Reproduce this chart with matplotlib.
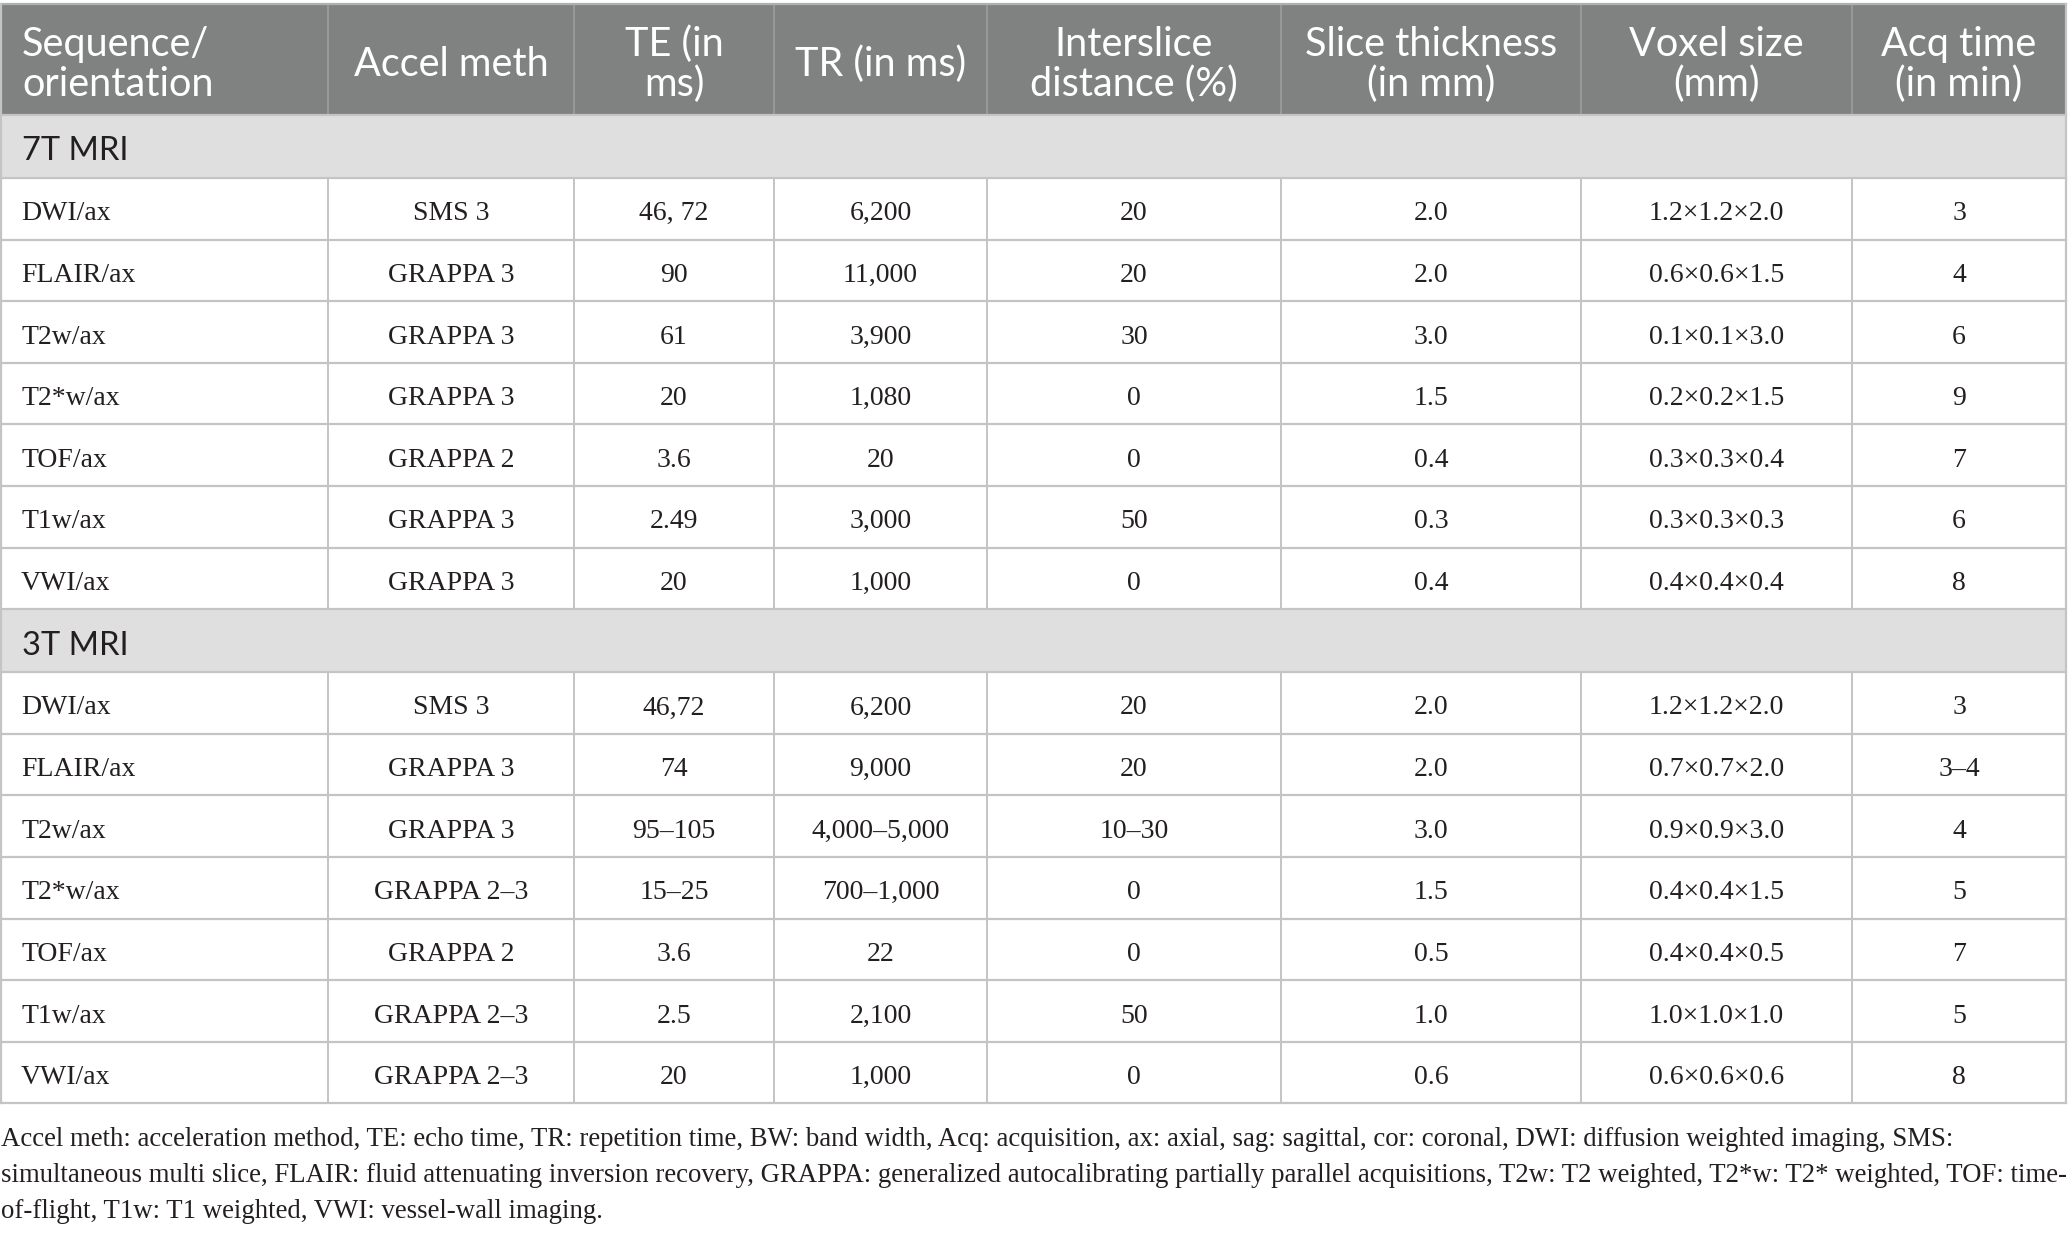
import matplotlib
matplotlib.use("Agg")
import matplotlib.pyplot as plt
from matplotlib.patches import Rectangle

# ---------------- data ----------------
headers = [["Sequence/", "orientation"], ["Accel meth"], ["TE (in", "ms)"], ["TR (in ms)"],
           ["Interslice", "distance (%)"], ["Slice thickness", "(in mm)"],
           ["Voxel size", "(mm)"], ["Acq time", "(in min)"]]

section_7t = "7T MRI"
seq_7t = ["DWI/ax", "FLAIR/ax", "T2w/ax", "T2*w/ax", "TOF/ax", "T1w/ax", "VWI/ax"]
accel_7t = ["SMS 3", "GRAPPA 3", "GRAPPA 3", "GRAPPA 3", "GRAPPA 2", "GRAPPA 3", "GRAPPA 3"]
te_7t = ["46, 72", "90", "61", "20", "3.6", "2.49", "20"]
tr_7t = ["6,200", "11,000", "3,900", "1,080", "20", "3,000", "1,000"]
inter_7t = ["20", "20", "30", "0", "0", "50", "0"]
thick_7t = ["2.0", "2.0", "3.0", "1.5", "0.4", "0.3", "0.4"]
voxel_7t = ["1.2×1.2×2.0", "0.6×0.6×1.5", "0.1×0.1×3.0", "0.2×0.2×1.5",
            "0.3×0.3×0.4", "0.3×0.3×0.3", "0.4×0.4×0.4"]
acq_7t = ["3", "4", "6", "9", "7", "6", "8"]

section_3t = "3T MRI"
seq_3t = ["DWI/ax", "FLAIR/ax", "T2w/ax", "T2*w/ax", "TOF/ax", "T1w/ax", "VWI/ax"]
accel_3t = ["SMS 3", "GRAPPA 3", "GRAPPA 3", "GRAPPA 2–3", "GRAPPA 2", "GRAPPA 2–3", "GRAPPA 2–3"]
te_3t = ["46,72", "74", "95–105", "15–25", "3.6", "2.5", "20"]
tr_3t = ["6,200", "9,000", "4,000–5,000", "700–1,000", "22", "2,100", "1,000"]
inter_3t = ["20", "20", "10–30", "0", "0", "50", "0"]
thick_3t = ["2.0", "2.0", "3.0", "1.5", "0.5", "1.0", "0.6"]
voxel_3t = ["1.2×1.2×2.0", "0.7×0.7×2.0", "0.9×0.9×3.0", "0.4×0.4×1.5",
            "0.4×0.4×0.5", "1.0×1.0×1.0", "0.6×0.6×0.6"]
acq_3t = ["3", "3–4", "4", "5", "7", "5", "8"]

footnote = [
    "Accel meth: acceleration method, TE: echo time, TR: repetition time, BW: band width, Acq: acquisition, ax: axial, sag: sagittal, cor: coronal, DWI: diffusion weighted imaging, SMS:",
    "simultaneous multi slice, FLAIR: fluid attenuating inversion recovery, GRAPPA: generalized autocalibrating partially parallel acquisitions, T2w: T2 weighted, T2*w: T2* weighted, TOF: time-",
    "of-flight, T1w: T1 weighted, VWI: vessel-wall imaging.",
]

# ---------------- layout (pixels) ----------------
W, H = 2068, 1233
col_edges = [1, 328, 574, 774, 987, 1281, 1581, 1852, 2066]
table_top = 4
header_h = 111
section_h = 63
row_h = 61.6

HEADER_BG = "#808281"
SECTION_BG = "#e0dfe0"
GRID = "#c4c4c4"
TEXT = "#231f20"

fig = plt.figure(figsize=(W / 100, H / 100), dpi=100)
ax = fig.add_axes([0, 0, 1, 1])
ax.set_xlim(0, W)
ax.set_ylim(H, 0)
ax.axis("off")

sans = ["Lato", "DejaVu Sans"]
serif = ["Liberation Serif", "DejaVu Serif"]
HFS = 28.5
SFS = 23.5
BFS = 20
FFS = 19.25

left = col_edges[0]
right = col_edges[-1]

# header
ax.add_patch(Rectangle((left, table_top), right - left, header_h, facecolor=HEADER_BG,
                       edgecolor="none", zorder=1))
for i, lines in enumerate(headers):
    x0, x1 = col_edges[i], col_edges[i + 1]
    cy = table_top + header_h / 2 + 5
    n = len(lines)
    for k, t in enumerate(lines):
        y = cy + (k - (n - 1) / 2) * 40
        if i == 0:
            ax.text(x0 + 21, y, t, ha="left", va="center", color="white", fontsize=HFS,
                    family=sans, zorder=3)
        else:
            ax.text((x0 + x1) / 2, y, t, ha="center", va="center", color="white",
                    fontsize=HFS, family=sans, zorder=3)
    if i > 0:
        ax.plot([x0, x0], [table_top, table_top + header_h], color="#9c9e9d", lw=1.2, zorder=2)

y = table_top + header_h
hlines = [y]


def draw_section(y, title, cols):
    ax.add_patch(Rectangle((left, y), right - left, section_h, facecolor=SECTION_BG,
                           edgecolor="none", zorder=1))
    ax.text(left + 21, y + section_h / 2 + 5, title, ha="left", va="center", color=TEXT,
            fontsize=SFS, family=sans, zorder=3)
    y += section_h
    hlines.append(y)
    nrows = len(cols[0])
    top = y
    for r in range(nrows):
        cy = y + row_h / 2 + 5
        for c, vals in enumerate(cols):
            x0, x1 = col_edges[c], col_edges[c + 1]
            if c == 0:
                ax.text(x0 + 20, cy, vals[r], ha="left", va="center", color=TEXT,
                        fontsize=BFS, family=serif, zorder=3)
            else:
                ax.text((x0 + x1) / 2, cy, vals[r], ha="center", va="center", color=TEXT,
                        fontsize=BFS, family=serif, zorder=3)
        y += row_h
        hlines.append(y)
    for xe in col_edges[1:-1]:
        ax.plot([xe, xe], [top, y], color=GRID, lw=1.4, zorder=2)
    return y


y = draw_section(y, section_7t, [seq_7t, accel_7t, te_7t, tr_7t, inter_7t, thick_7t, voxel_7t, acq_7t])
y = draw_section(y, section_3t, [seq_3t, accel_3t, te_3t, tr_3t, inter_3t, thick_3t, voxel_3t, acq_3t])
table_bottom = y

for yy in hlines:
    ax.plot([left, right], [yy, yy], color=GRID, lw=1.6, zorder=2)
# outer border
ax.plot([left, right], [table_top, table_top], color="#b0b0b0", lw=1.6, zorder=2)
ax.plot([left, left], [table_top, table_bottom], color=GRID, lw=1.6, zorder=2)
ax.plot([right, right], [table_top, table_bottom], color=GRID, lw=1.6, zorder=2)

# footnote
for k, line in enumerate(footnote):
    ax.text(1, 1139 + k * 36, line, ha="left", va="center", color=TEXT,
            fontsize=FFS, family=serif, zorder=3)

fig.savefig("out.png", dpi=100, facecolor="white")
